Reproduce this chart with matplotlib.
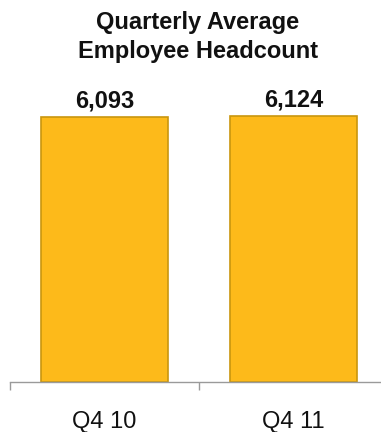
import matplotlib
matplotlib.use("Agg")
import matplotlib.pyplot as plt

quarters = ["Q4 10", "Q4 11"]
headcount = [6093, 6124]
value_labels = ["6,093", "6,124"]

plt.rcParams['font.family'] = ['Liberation Sans', 'DejaVu Sans']

W, H = 381, 432
fig = plt.figure(figsize=(W / 100, H / 100), dpi=100)

# axis line sits at y=382 px, spans from x=10 px past the right edge
ax = fig.add_axes([10 / W, (H - 382) / H, 378 / W, 382 / H])
ax.bar(range(len(quarters)), headcount, width=0.667,
       color="#FDBA1A", edgecolor="#C9960E", linewidth=1.2, zorder=2)

ax.set_xlim(-0.5, 1.5)
ax.set_ylim(0, 382 / 265 * 6093)

for i, (v, lab) in enumerate(zip(headcount, value_labels)):
    ax.annotate(lab, (i, v), xytext=(0, 6.5), textcoords="offset points",
                ha="center", va="baseline",
                fontsize=17, fontweight="bold", color="#111111")

for s in ["top", "right", "left"]:
    ax.spines[s].set_visible(False)
ax.spines["bottom"].set_color("#9a9a9a")
ax.spines["bottom"].set_linewidth(1.0)
ax.set_yticks([])

ax.set_xticks(range(len(quarters)))
ax.set_xticklabels(quarters, fontsize=17, color="#111111")
ax.tick_params(axis="x", which="major", length=0, pad=21)
ax.set_xticks([-0.5, 0.5, 1.5], minor=True)
ax.tick_params(axis="x", which="minor", length=6, color="#9a9a9a", width=1.0)

fig.text(198 / W, 1 - 37 / H, "Quarterly Average\nEmployee Headcount",
         ha="center", va="center", fontsize=17, fontweight="bold",
         linespacing=1.3, color="#111111")

fig.savefig("out.png", dpi=100)
